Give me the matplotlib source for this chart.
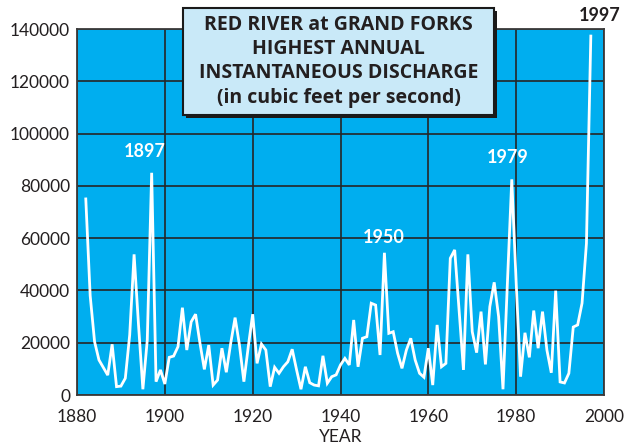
import matplotlib
matplotlib.use("Agg")
import matplotlib.pyplot as plt
from matplotlib.patches import Rectangle

plt.rcParams['font.family'] = ['Lato', 'DejaVu Sans']

years = list(range(1882, 1998))
discharge_k = [
    75, 38, 20.4, 13.4, 10.5, 7.6, 19.4, 3.2, 3.4, 6.4,          # 1882-1891
    23, 53.8, 27, 2.2, 21, 85, 5.1, 9.6, 4.2, 14.4,               # 1892-1901
    14.9, 18.5, 33.4, 17.2, 28, 30.9, 19.8, 9.8, 19.1, 3.8,       # 1902-1911
    5.7, 17.9, 8.7, 19.8, 29.6, 19, 5.1, 18.5, 30.9, 12.1,        # 1912-1921
    19.5, 17.2, 3.2, 10.6, 8.3, 10.8, 12.7, 17.5, 9.6, 2.2,       # 1922-1931
    10.8, 4.7, 3.8, 3.5, 15, 4.5, 7, 7.7, 11.5, 14,               # 1932-1941
    11.5, 28.7, 10.8, 21.7, 22.3, 35.1, 34.4, 15.3, 54.4, 23.6,   # 1942-1951
    24.2, 16, 10.2, 17.2, 21.7, 13.4, 8.3, 6.8, 17.9, 3.8,        # 1952-1961
    26.8, 10.8, 12.1, 52.3, 55.5, 32.5, 9.6, 53.8, 24.2, 16.2,    # 1962-1971
    31.9, 11.7, 33.8, 43.1, 30, 2.2, 42.7, 82.5, 43, 7,           # 1972-1981
    23.8, 14.4, 32.3, 17.9, 31.9, 17.2, 8.5, 39.9, 5, 4.6,        # 1982-1991
    8.3, 26, 26.8, 35.1, 58, 137.3,                               # 1992-1997
]
discharge = [v * 1000 for v in discharge_k]

x_ticks = [1880, 1900, 1920, 1940, 1960, 1980, 2000]
y_ticks = [0, 20000, 40000, 60000, 80000, 100000, 120000, 140000]
title_lines = ["RED RIVER at GRAND FORKS", "HIGHEST ANNUAL",
               "INSTANTANEOUS DISCHARGE", "(in cubic feet per second)"]
peak_years = [1897, 1950, 1979, 1997]

dark = '#231F20'
fig = plt.figure(figsize=(6.41, 4.45), dpi=100)
W, H = 641, 445
ax = fig.add_axes([77 / W, 1 - 395 / H, (604 - 77) / W, (395 - 29) / H])
ax.set_facecolor('#00AEEF')
ax.plot(years, discharge, color='white', lw=2.0, zorder=3, solid_joinstyle='miter')
ax.set_xlim(1880, 2000)
ax.set_ylim(0, 140000)
ax.set_xticks(x_ticks)
ax.set_yticks(y_ticks)
ax.set_xticklabels([str(t) for t in x_ticks])
ax.set_yticklabels([str(t) for t in y_ticks])
ax.grid(True, color='#262626', lw=1.2, zorder=1)
ax.set_axisbelow(True)
ax.tick_params(length=0, labelsize=12.5, colors=dark)
ax.tick_params(axis='x', pad=10)
ax.tick_params(axis='y', pad=5)
for s in ax.spines.values():
    s.set_color('#3a3a3a')
    s.set_linewidth(1.3)
ax.set_xlabel('YEAR', fontsize=12.5, color=dark, labelpad=3)

# peak labels
offsets = {1897: (-7, 21), 1950: (-1, 15), 1979: (-4, 22), 1997: (9, 21)}
for yr in peak_years:
    v = discharge[years.index(yr)]
    col = dark if yr == 1997 else 'white'
    ax.annotate(str(yr), (yr, v), xytext=offsets[yr], textcoords='offset pixels',
                ha='center', va='center', fontsize=13, fontweight='bold',
                color=col, annotation_clip=False, zorder=5)

# title box with shadow
bx0, bx1, by0, by1 = 183, 494, 8, 115
fig.patches.append(Rectangle(((bx0 + 3) / W, 1 - (by1 + 3) / H), (bx1 - bx0) / W,
                             (by1 - by0) / H, transform=fig.transFigure,
                             facecolor='#1a1a1a', edgecolor='none', zorder=10))
fig.patches.append(Rectangle((bx0 / W, 1 - by1 / H), (bx1 - bx0) / W,
                             (by1 - by0) / H, transform=fig.transFigure,
                             facecolor='#C9E9F8', edgecolor='#1a1a1a', lw=1.5, zorder=11))
for i, line in enumerate(title_lines):
    fig.text((bx0 + bx1) / 2 / W, 1 - (25.5 + 24 * i) / H, line, ha='center', va='center',
             fontsize=14, fontweight='bold', color=dark, zorder=12,
             family=['Open Sans', 'DejaVu Sans'])

fig.savefig('out.png', dpi=100)
